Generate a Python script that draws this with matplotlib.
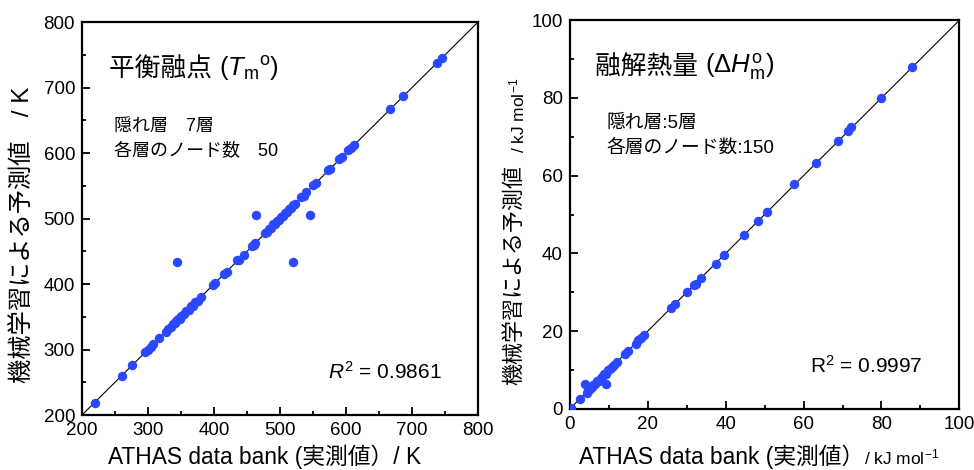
import matplotlib
matplotlib.use("Agg")
import matplotlib.pyplot as plt

plt.rcParams['font.family'] = ['Liberation Sans', 'Noto Sans CJK JP']
plt.rcParams['mathtext.fontset'] = 'custom'
plt.rcParams['mathtext.rm'] = 'Liberation Sans'
plt.rcParams['mathtext.it'] = 'Liberation Sans:italic'

# 平衡融点 Tm (K)
tm_actual = [219, 261, 276, 296, 300, 304, 308, 317, 328, 331, 335, 338, 341, 343,
             345, 348, 350, 355, 358, 362, 365, 368, 371, 375, 380, 398, 402, 415,
             419, 435, 438, 445, 457, 460, 462, 477, 480, 483, 486, 490, 493, 496,
             499, 502, 505, 508, 511, 514, 517, 520, 522, 532, 536, 540, 550, 555,
             573, 576, 590, 594, 603, 607, 612, 666, 686, 738, 745,
             344, 463, 545, 520]
tm_pred = [219, 260, 276, 296, 299, 304, 308, 317, 327, 332, 334, 339, 340, 344,
           346, 347, 351, 354, 359, 361, 366, 367, 372, 374, 380, 399, 401, 416,
           418, 436, 437, 445, 458, 459, 463, 478, 479, 484, 485, 491, 492, 497,
           498, 503, 504, 509, 510, 515, 516, 521, 522, 533, 535, 541, 551, 554,
           574, 576, 591, 594, 604, 607, 612, 667, 687, 738, 745,
           433, 505, 505, 433]

# 融解熱量 ΔHm (kJ/mol)
hm_actual = [0.3, 2.7, 3.9, 4.3, 4.8, 5.1, 5.6, 6.0, 6.5, 7.0, 7.4, 7.9, 8.3, 8.8,
             9.2, 9.4, 9.8, 10.3, 10.8, 11.4, 12.0, 14.1, 15.0, 16.9, 17.6, 18.4,
             19.0, 26.1, 27.0, 30.1, 31.8, 32.3, 33.6, 37.4, 39.6, 44.7, 48.4, 50.5,
             57.6, 63.2, 68.9, 71.5, 72.3, 79.9, 87.8]
hm_pred = [0.3, 2.6, 6.5, 4.1, 4.9, 5.0, 5.7, 6.1, 6.4, 7.1, 7.3, 8.0, 8.2, 8.9,
           9.1, 6.5, 9.9, 10.2, 10.9, 11.3, 12.1, 14.2, 15.0, 16.8, 17.7, 18.3,
           19.0, 26.0, 27.0, 30.1, 31.9, 32.2, 33.6, 37.4, 39.6, 44.7, 48.4, 50.6,
           57.8, 63.3, 68.8, 71.6, 72.4, 80.1, 87.9]

blue = '#2a48ff'

fig = plt.figure(figsize=(9.74, 4.70), dpi=100)
ax1 = fig.add_axes([0.0842, 0.117, 0.4066, 0.836])
ax2 = fig.add_axes([0.585, 0.130, 0.400, 0.827])


def style(ax, lo, hi, step):
    ax.set_xlim(lo, hi)
    ax.set_ylim(lo, hi)
    ax.plot([lo, hi], [lo, hi], color='black', lw=0.8, zorder=1)
    ax.set_xticks(range(lo, hi + 1, step))
    ax.set_yticks(range(lo, hi + 1, step))
    ax.set_xticks([v + step / 2 for v in range(lo, hi, step)], minor=True)
    ax.set_yticks([v + step / 2 for v in range(lo, hi, step)], minor=True)
    ax.tick_params(which='both', direction='in', top=False, right=False,
                   width=1.3, labelsize=13.5, pad=5)
    ax.tick_params(which='major', length=6)
    ax.tick_params(which='minor', length=3)
    for s in ax.spines.values():
        s.set_linewidth(1.6)


def title(ax, x, y, jp, math):
    t = ax.text(x, y, jp, transform=ax.transAxes, fontsize=18.5, va='baseline')
    ax.annotate(math, xy=(1, 0), xycoords=t, xytext=(0, 4), textcoords='offset points',
                fontsize=18.5, va='baseline')


style(ax1, 200, 800, 100)
ax1.scatter(tm_actual, tm_pred, s=46, color=blue, zorder=3, linewidths=0)
title(ax1, 0.067, 0.862, '平衡融点 ', r'($T_\mathrm{m}{}^\mathrm{o}$)')
ax1.text(0.08, 0.735, '隠れ層　7層', transform=ax1.transAxes, fontsize=13, va='center')
ax1.text(0.08, 0.67, '各層のノード数　50', transform=ax1.transAxes, fontsize=13, va='center')
ax1.text(0.909, 0.11, r'$R^2$ = 0.9861', transform=ax1.transAxes, fontsize=15,
         ha='right', va='center')

style(ax2, 0, 100, 20)
ax2.scatter(hm_actual, hm_pred, s=46, color=blue, zorder=3, linewidths=0)
title(ax2, 0.064, 0.863, '融解熱量 ', r'($\Delta H_\mathrm{m}^\mathrm{o}$)')
ax2.text(0.095, 0.735, '隠れ層:5層', transform=ax2.transAxes, fontsize=13.5, va='center')
ax2.text(0.095, 0.67, '各層のノード数:150', transform=ax2.transAxes, fontsize=13.5, va='center')
ax2.text(0.905, 0.11, 'R$^2$ = 0.9997', transform=ax2.transAxes, fontsize=15,
         ha='right', va='center')

# axis labels
fig.text(22 / 974, 1 - 235 / 470, '機械学習による予測値　/ K', rotation=90,
         fontsize=17.5, ha='center', va='center')
fig.text(265 / 974, 1 - 464 / 470, 'ATHAS data bank (実測値）/ K', fontsize=16.4,
         ha='center', va='baseline')

fig.text(515 / 974, 1 - 275 / 470, '機械学習による予測値', rotation=90,
         fontsize=15.8, ha='center', va='center')
fig.text(517 / 974, 1 - 115 / 470, '/ kJ mol$^{-1}$', rotation=90,
         fontsize=12.5, ha='center', va='center')
fig.text(722 / 974, 1 - 464 / 470, 'ATHAS data bank (実測値）', fontsize=16.4,
         ha='center', va='baseline')
fig.text(902 / 974, 1 - 464 / 470, '/ kJ mol$^{-1}$', fontsize=12.5,
         ha='center', va='baseline')

fig.savefig('out.png', dpi=100)
